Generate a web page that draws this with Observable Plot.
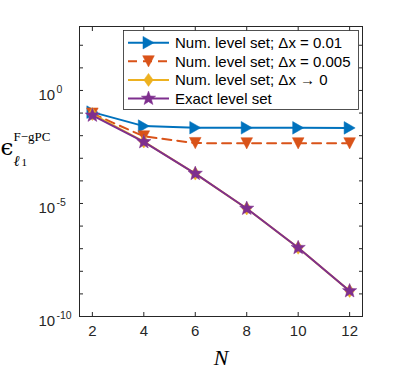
<!DOCTYPE html>
<html><head><meta charset="utf-8">
<script src="https://cdn.jsdelivr.net/npm/d3@7"></script>
<script src="https://cdn.jsdelivr.net/npm/@observablehq/plot@0.6"></script>
<style>
body{margin:0;background:#fff}
svg{font-family:"Liberation Sans",Arial,Helvetica,sans-serif}
</style>
</head><body><div id="chart"></div>
<script>
// ---- data ----
const N = [2, 4, 6, 8, 10, 12];
const errDx001  = [0.11, 0.0265, 0.0225, 0.0223, 0.0222, 0.0221];
const errDx0005 = [0.095, 0.0093, 0.0047, 0.0046, 0.0046, 0.0046];
const errDx0    = [0.09, 0.0055, 2.1e-4, 6.0e-6, 1.1e-7, 1.35e-9];
const errExact  = [0.079, 0.0053, 2.1e-4, 6.0e-6, 1.1e-7, 1.35e-9];
const seriesNames = ["Num. level set; \u0394x = 0.01", "Num. level set; \u0394x = 0.005", "Num. level set; \u0394x \u2192 0", "Exact level set"];
const seriesColors = ["#0072BD", "#D95319", "#EDB120", "#7E2F8E"];
const xTicks = [2, 4, 6, 8, 10, 12];
const yTickExps = [-10, -9, -8, -7, -6, -5, -4, -3, -2, -1, 0, 1, 2];
const yLabelExps = [0, -5, -10];

// ---- custom marker symbols ----
const rad = s => Math.sqrt(s / Math.PI);
const triRight = {draw(c, s){const R = rad(s); c.moveTo(0.92*R,0); c.lineTo(-0.92*R,-1.05*R); c.lineTo(-0.92*R,1.05*R); c.closePath();}};
const triDown = {draw(c, s){const R = rad(s); c.moveTo(-0.97*R,-0.94*R); c.lineTo(0.97*R,-0.94*R); c.lineTo(0,0.94*R); c.closePath();}};
const diamond = {draw(c, s){const R = rad(s); c.moveTo(0,-R); c.lineTo(0.72*R,0); c.lineTo(0,R); c.lineTo(-0.72*R,0); c.closePath();}};
const star = {draw(c, s){const R = rad(s), r = 0.42*R; for (let k = 0; k < 10; k++){const a = -Math.PI/2 + k*Math.PI/5, rr = k%2 ? r : R; const x = rr*Math.cos(a), y = rr*Math.sin(a); k ? c.lineTo(x,y) : c.moveTo(x,y);} c.closePath();}};
const symbols = [triRight, triDown, diamond, star];
const markerR = [6, 6, 6.5, 7.5];
const dashes = [null, "9,6", null, null];
const seriesValues = [errDx001, errDx0005, errDx0, errExact];

const axisColor = "#262626";
const marks = [];
seriesValues.forEach((vals, i) => {
  marks.push(Plot.line(vals, {x: N, y: vals, stroke: seriesColors[i], strokeWidth: 2, strokeDasharray: dashes[i]}));
  marks.push(Plot.dot(vals, {x: N, y: vals, symbol: symbols[i], r: markerR[i], fill: seriesColors[i], stroke: seriesColors[i], strokeWidth: 0.5}));
});

const chart = Plot.plot({
  width: 399, height: 371,
  marginLeft: 79, marginRight: 37, marginTop: 26, marginBottom: 55,
  style: {fontFamily: '"Liberation Sans", Arial, sans-serif', background: "#fff"},
  x: {domain: [1.5, 12.5]},
  y: {type: "log", domain: [1e-10, Math.pow(10, 2.83)]},
  marks: [
    ...marks,
    Plot.frame({stroke: axisColor, strokeWidth: 1}),
    Plot.axisX({anchor: "bottom", ticks: xTicks, tickSize: -4, tickPadding: 13, fontSize: 15, label: null, stroke: axisColor, fill: "#262626"}),
    Plot.axisX({anchor: "top", ticks: xTicks, tickSize: -4, tickFormat: () => "", label: null, stroke: axisColor}),
    Plot.axisY({anchor: "left", ticks: yTickExps.map(e => Math.pow(10, e)), tickSize: -4, tickFormat: () => "", label: null, stroke: axisColor}),
    Plot.axisY({anchor: "right", ticks: yTickExps.map(e => Math.pow(10, e)), tickSize: -4, tickFormat: () => "", label: null, stroke: axisColor}),
    Plot.text(yLabelExps, {y: d => Math.pow(10, d), frameAnchor: "left", text: () => "10", textAnchor: "start", dx: -41, dy: 5, fontSize: 15, fill: "#262626"}),
    Plot.text(yLabelExps, {y: d => Math.pow(10, d), frameAnchor: "left", text: d => String(d), textAnchor: "start", dx: -23, dy: -1, fontSize: 10.5, fill: "#262626"}),
    Plot.text(["N"], {frameAnchor: "bottom", lineAnchor: "bottom", dy: 48, fontSize: 22, fontStyle: "italic", fontFamily: '"Liberation Serif", "DejaVu Serif", serif', fill: "#000"}),
    Plot.text(["\u03F5"], {frameAnchor: "left", textAnchor: "start", lineAnchor: "bottom", dx: -79, dy: -17, fontSize: 23, fontFamily: '"DejaVu Serif", serif', fill: "#000"}),
    Plot.text(["F\u2212gPC"], {frameAnchor: "left", textAnchor: "start", lineAnchor: "bottom", dx: -66, dy: -31, fontSize: 13, fontFamily: '"Liberation Serif", serif', fill: "#000"}),
    Plot.text(["\u2113"], {frameAnchor: "left", textAnchor: "start", lineAnchor: "bottom", dx: -66, dy: -6, fontSize: 15, fontStyle: "italic", fontFamily: '"DejaVu Serif", serif', fill: "#000"}),
    Plot.text(["1"], {frameAnchor: "left", textAnchor: "start", lineAnchor: "bottom", dx: -58, dy: -6, fontSize: 11, fontFamily: '"Liberation Serif", serif', fill: "#000"})
  ]
});
document.getElementById("chart").appendChild(chart);

// ---- legend (inside the axes, top right) ----
const svg = d3.select(chart);
const lg = svg.append("g").attr("text-anchor", "start");
const box = {x: 123, y: 30, w: 235, h: 79};
lg.append("rect").attr("x", box.x + 0.5).attr("y", box.y + 0.5).attr("width", box.w).attr("height", box.h)
  .attr("fill", "#fff").attr("stroke", axisColor).attr("stroke-width", 0.8);
seriesNames.forEach((name, i) => {
  const cy = 42.7 + i * 18.6;
  lg.append("line").attr("x1", 128).attr("x2", 169).attr("y1", cy).attr("y2", cy)
    .attr("stroke", seriesColors[i]).attr("stroke-width", 2).attr("stroke-dasharray", dashes[i]);
  const p = d3.path(); symbols[i].draw(p, Math.PI * markerR[i] * markerR[i]);
  lg.append("path").attr("d", p.toString()).attr("transform", `translate(148.5,${cy})`)
    .attr("fill", seriesColors[i]).attr("stroke", seriesColors[i]).attr("stroke-width", 0.5);
  lg.append("text").attr("x", 175).attr("y", cy).attr("dy", "0.36em").attr("font-size", 15)
    .attr("text-anchor", "start").attr("fill", "#000").text(name);
});
</script>
</body></html>
